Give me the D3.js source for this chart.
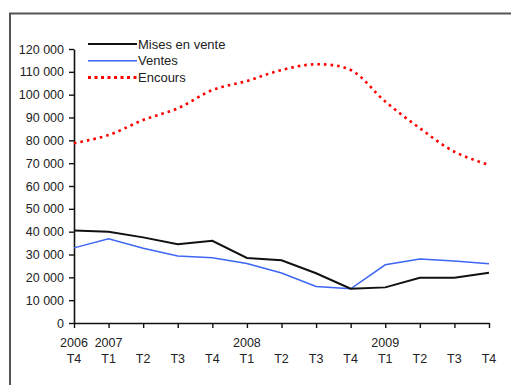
<!DOCTYPE html>
<html>
<head>
<meta charset="utf-8">
<script src="https://cdn.jsdelivr.net/npm/d3@7/dist/d3.min.js"></script>
<style>
  html, body { margin: 0; padding: 0; background: #fff; }
  svg { display: block; font-family: "Liberation Sans", Arial, sans-serif; }
</style>
</head>
<body>
<svg id="chart" width="511" height="385"></svg>
<script>
// Quarterly series, 2006 T4 to 2009 T4
const quarters = ["T4","T1","T2","T3","T4","T1","T2","T3","T4","T1","T2","T3","T4"];
const years    = ["2006","2007","","","","2008","","","","2009","","",""];
const misesEnVente = [40500, 40000, 37500, 34500, 36000, 28500, 27500, 21800, 15000, 15600, 19800, 19800, 22000];
const ventes       = [32900, 36900, 32700, 29300, 28600, 26100, 21900, 16000, 15000, 25500, 28000, 27200, 26000];
const encours      = [78700, 82300, 88900, 94000, 102000, 106000, 110800, 113300, 110800, 97000, 85300, 75000, 69200];
const yTicks = d3.range(0, 120001, 10000);
const seriesNames = ["Mises en vente", "Ventes", "Encours"];

const svg = d3.select("#chart");

// outer frame (runs past the right and bottom edges)
svg.append("rect")
  .attr("x", 10).attr("y", 13.5)
  .attr("width", 520).attr("height", 400)
  .attr("fill", "none").attr("stroke", "#555").attr("stroke-width", 2);

const x = d3.scalePoint().domain(d3.range(quarters.length)).range([74, 489]);
const y = d3.scaleLinear().domain([0, 120000]).range([323, 49]);

const fmt = v => d3.format(",")(v).replace(/,/g, " ");

// y axis
const yAxis = svg.append("g")
  .attr("transform", "translate(74,0)")
  .call(d3.axisLeft(y).tickValues(yTicks).tickFormat(fmt).tickSize(5).tickPadding(5).tickSizeOuter(0));
// x axis
const xAxis = svg.append("g")
  .attr("transform", "translate(0,323)")
  .call(d3.axisBottom(x).tickFormat(() => "").tickSize(5).tickSizeOuter(0));

[yAxis, xAxis].forEach(g => {
  g.select(".domain").attr("stroke", "#111").attr("stroke-width", 1.6);
  g.selectAll(".tick line").attr("stroke", "#111").attr("stroke-width", 1.4);
});
yAxis.selectAll(".tick text")
  .attr("font-size", 12.5).attr("fill", "#222")
  .attr("font-family", "Liberation Sans, Arial, sans-serif");

// two-line category labels
const labels = svg.append("g").attr("font-size", 12.5).attr("fill", "#222").attr("text-anchor", "middle");
labels.selectAll("text.yr").data(years).join("text")
  .attr("class", "yr")
  .attr("x", (d, i) => x(i)).attr("y", 347)
  .text(d => d);
labels.selectAll("text.q").data(quarters).join("text")
  .attr("class", "q")
  .attr("x", (d, i) => x(i)).attr("y", 363)
  .text(d => d);

// lines
const line = d3.line().x((d, i) => x(i)).y(d => y(d));
const smooth = d3.line().x((d, i) => x(i)).y(d => y(d)).curve(d3.curveCatmullRom.alpha(0.5));

svg.append("path").datum(ventes)
  .attr("d", line).attr("fill", "none")
  .attr("stroke", "#3d66f5").attr("stroke-width", 1.5);
svg.append("path").datum(misesEnVente)
  .attr("d", line).attr("fill", "none")
  .attr("stroke", "#111").attr("stroke-width", 2);
svg.append("path").datum(encours)
  .attr("d", smooth).attr("fill", "none")
  .attr("stroke", "#f00").attr("stroke-width", 2.6)
  .attr("stroke-dasharray", "2.6,4");

// legend
const styles = [
  { stroke: "#111", width: 2, dash: null },
  { stroke: "#3d66f5", width: 1.5, dash: null },
  { stroke: "#f00", width: 3, dash: "3,3.5" }
];
const legend = svg.append("g");
seriesNames.forEach((name, i) => {
  const ly = 44 + i * 16.8;
  legend.append("line")
    .attr("x1", 88).attr("x2", 137).attr("y1", ly).attr("y2", ly)
    .attr("stroke", styles[i].stroke).attr("stroke-width", styles[i].width)
    .attr("stroke-dasharray", styles[i].dash);
  legend.append("text")
    .attr("x", 138).attr("y", ly + 4.5)
    .attr("font-size", 13).attr("fill", "#222")
    .text(name);
});
</script>
</body>
</html>
